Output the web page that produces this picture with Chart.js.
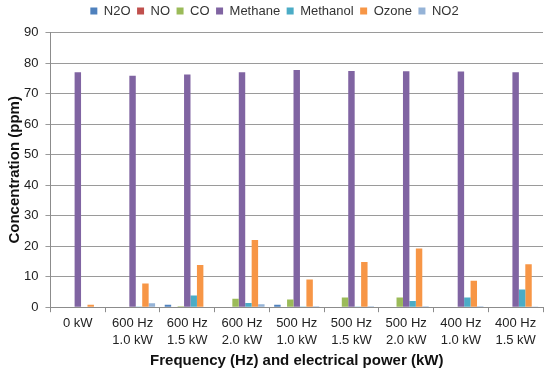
<!DOCTYPE html>
<html><head><meta charset="utf-8">
<script src="https://cdn.jsdelivr.net/npm/chart.js@4"></script>
<style>html,body{margin:0;padding:0;background:#fff}#w{width:550px;height:370px}</style>
</head><body><div id="w"><canvas id="c"></canvas></div>
<script>
const categories = [['0 kW'],['600 Hz','1.0 kW'],['600 Hz','1.5 kW'],['600 Hz','2.0 kW'],['500 Hz','1.0 kW'],['500 Hz','1.5 kW'],['500 Hz','2.0 kW'],['400 Hz','1.0 kW'],['400 Hz','1.5 kW']];
const n2o      = [0, 0, 0.8, 0, 0.8, 0, 0, 0, 0];
const no       = [0, 0, 0, 0, 0, 0, 0, 0, 0];
const co       = [0, 0, 0.3, 2.8, 2.5, 3.2, 3.2, 0, 0];
const methane  = [77, 75.8, 76.2, 77, 77.7, 77.4, 77.3, 77.2, 77];
const methanol = [0, 0.1, 3.8, 1.4, 0.1, 0.1, 2.0, 3.2, 5.8];
const ozone    = [0.8, 7.8, 13.8, 22, 9.1, 14.8, 19.2, 8.7, 14.1];
const no2      = [0, 1.3, 0, 1.0, 0.3, 0.3, 0.3, 0.3, 0.1];
const yTicks = [0,10,20,30,40,50,60,70,80,90];

const font = "'Liberation Sans', Arial, sans-serif";
const mk = (label, data, color) => ({label, data, backgroundColor: color, borderWidth: 0});
const legendSpace = {
  id: 'legendSpace',
  beforeInit(chart) {
    const orig = chart.legend.fit;
    chart.legend.fit = function () { orig.call(this); this.height += 5; };
  }
};
new Chart(document.getElementById('c'), {
  type: 'bar',
  plugins: [legendSpace],
  data: {
    labels: categories,
    datasets: [
      mk('N2O', n2o, '#4F81BD'),
      mk('NO', no, '#C0504D'),
      mk('CO', co, '#9BBB59'),
      mk('Methane', methane, '#8064A2'),
      mk('Methanol', methanol, '#4BACC6'),
      mk('Ozone', ozone, '#F79646'),
      mk('NO2', no2, '#95B3D7')
    ]
  },
  options: {
    responsive: true, maintainAspectRatio: false, animation: false,
    datasets: { bar: { categoryPercentage: 0.824, barPercentage: 1 } },
    layout: { padding: { left: 6, right: 7, top: -2, bottom: 0 } },
    plugins: {
      tooltip: { enabled: false },
      legend: {
        position: 'top',
        labels: { boxWidth: 7, boxHeight: 7, padding: 6.5, color: '#333', font: { family: font, size: 13 } }
      }
    },
    scales: {
      x: {
        grid: { offset: true, drawOnChartArea: false, drawTicks: true, tickLength: 5, color: '#8c8c8c' },
        border: { color: '#8c8c8c' },
        ticks: { color: '#222', font: { family: font, size: 13, lineHeight: 1.3 }, maxRotation: 0, autoSkip: false, padding: 3 },
        title: { display: true, text: 'Frequency (Hz) and electrical power (kW)', color: '#111', font: { family: font, size: 15, weight: 'bold' }, padding: { top: 0, bottom: 0 } }
      },
      y: {
        min: 0, max: 90,
        afterBuildTicks: (s) => { s.ticks = yTicks.map(v => ({ value: v })); },
        afterFit: (s) => { s.width -= 7; },
        grid: { color: '#9a9a9a', tickLength: 5 },
        border: { color: '#8c8c8c' },
        ticks: { color: '#222', font: { family: font, size: 13 }, padding: 7 },
        title: { display: true, text: 'Concentration (ppm)', color: '#111', font: { family: font, size: 15, weight: 'bold' }, padding: { top: 0, bottom: 0 } }
      }
    }
  }
});
</script></body></html>
